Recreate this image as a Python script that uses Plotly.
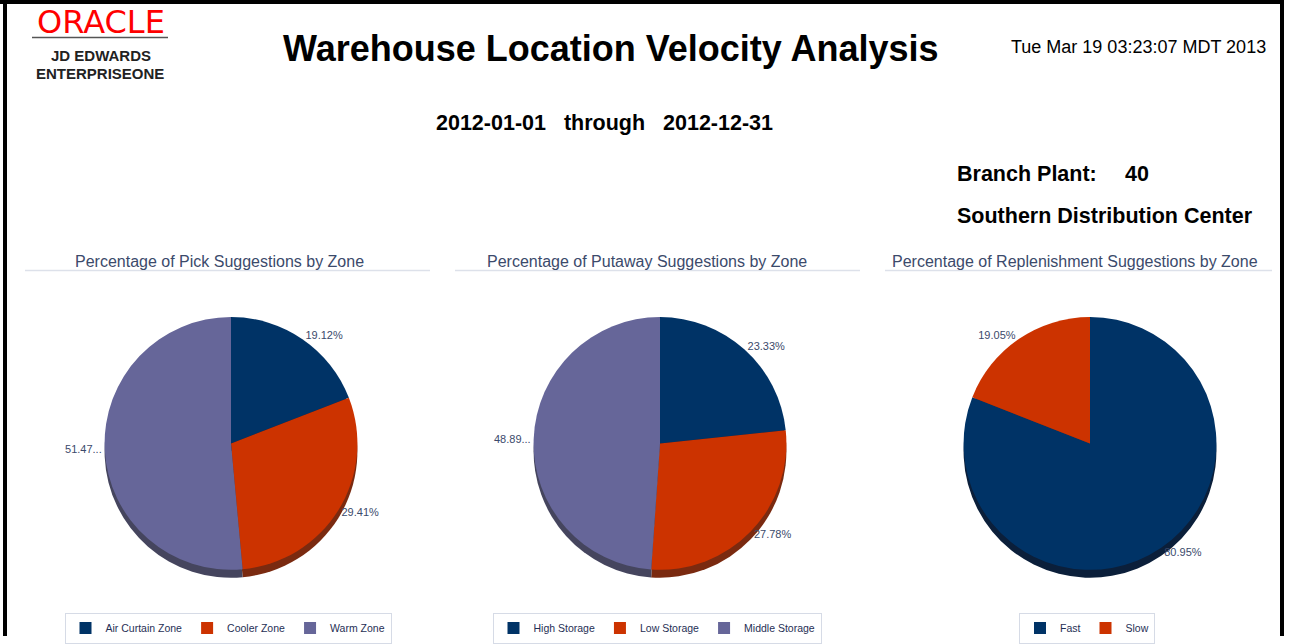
import plotly.graph_objects as go

W, H = 1290, 644

# ---------------- data ----------------
pick_zones = ["Air Curtain Zone", "Cooler Zone", "Warm Zone"]
pick_values = [19.12, 29.41, 51.47]
pick_labels = ["19.12%", "29.41%", "51.47..."]

putaway_zones = ["High Storage", "Low Storage", "Middle Storage"]
putaway_values = [23.33, 27.78, 48.89]
putaway_labels = ["23.33%", "27.78%", "48.89..."]

replen_zones = ["Fast", "Slow"]
replen_values = [80.95, 19.05]
replen_labels = ["80.95%", "19.05%"]

chart_titles = [
    "Percentage of Pick Suggestions by Zone",
    "Percentage of Putaway Suggestions by Zone",
    "Percentage of Replenishment Suggestions by Zone",
]

colors = ["#003366", "#CC3300", "#666699"]
shadow_colors = ["#0b1f3a", "#7a2a10", "#45455e"]

FONT = "Liberation Sans, Arial, sans-serif"
TEXTCOL = "#3b4a6b"

# pie geometry in pixels
R = 128
CY = 449
centers_x = [231, 660, 1090]
SHADOW = 8


def dom(cx, cy):
    return dict(x=[(cx - R) / W, (cx + R) / W],
                y=[1 - (cy + R) / H, 1 - (cy - R) / H])


fig = go.Figure()

datasets = [
    (pick_zones, pick_values, pick_labels, "legend"),
    (putaway_zones, putaway_values, putaway_labels, "legend2"),
    (replen_zones, replen_values, replen_labels, "legend3"),
]

for (zones, vals, labs, lg), cx in zip(datasets, centers_x):
    # shadow (3D edge)
    fig.add_trace(go.Pie(
        labels=zones, values=vals, textinfo="none",
        sort=False, direction="clockwise", rotation=0,
        marker=dict(colors=shadow_colors[:len(zones)], line=dict(width=0)),
        domain=dom(cx, CY + SHADOW), showlegend=False, hoverinfo="skip",
    ))
    fig.add_trace(go.Pie(
        labels=zones, values=vals, text=labs, textinfo="text",
        textposition="outside", sort=False, direction="clockwise", rotation=0,
        marker=dict(colors=colors[:len(zones)], line=dict(width=0)),
        textfont=dict(color=TEXTCOL, size=11, family=FONT),
        domain=dom(cx, CY), legend=lg, showlegend=True,
    ))

annotations = []
shapes = []


def ann(text, x, y, size, bold=False, color="#000000", xanchor="left", yanchor="middle", family=FONT):
    t = f"<b>{text}</b>" if bold else text
    annotations.append(dict(text=t, x=x / W, y=1 - y / H, xref="paper", yref="paper",
                            xanchor=xanchor, yanchor=yanchor, showarrow=False,
                            font=dict(size=size, color=color, family=family)))


# logo
ann("ORACLE", 101, 22, 32, color="#ff0000", xanchor="center", family="DejaVu Sans, sans-serif")
shapes.append(dict(type="line", xref="paper", yref="paper", x0=32 / W, x1=168 / W,
                   y0=1 - 38 / H, y1=1 - 38 / H, line=dict(color="#555555", width=1.5)))
ann("JD EDWARDS", 101, 56, 15, bold=True, color="#222222", xanchor="center")
ann("ENTERPRISEONE", 100, 74, 15, bold=True, color="#222222", xanchor="center")

# header texts
ann("Warehouse Location Velocity Analysis", 611, 49, 36, bold=True, xanchor="center")
ann("Tue Mar 19 03:23:07 MDT 2013", 1268, 48, 18, xanchor="right")
ann("2012-01-01\u00a0\u00a0\u00a0through\u00a0\u00a0\u00a02012-12-31", 604, 125, 21.5, bold=True, xanchor="center")
ann("Branch Plant:", 955, 176, 21.5, bold=True)
ann("40", 1123, 176, 21.5, bold=True)
ann("Southern Distribution Center", 955, 219, 21.5, bold=True)

# chart titles + underlines
title_centers = [219, 647, 1075]
underlines = [(25, 430), (455, 860), (885, 1272)]
for t, c, (u0, u1) in zip(chart_titles, title_centers, underlines):
    ann(t, c, 265, 16, color=TEXTCOL, xanchor="center")
    shapes.append(dict(type="line", xref="paper", yref="paper", x0=u0 / W, x1=u1 / W,
                       y0=1 - 274 / H, y1=1 - 274 / H, line=dict(color="#dde1ea", width=1.5)))

# page border
shapes.append(dict(type="line", xref="paper", yref="paper", x0=5 / W, x1=5 / W, y0=0, y1=1,
                   line=dict(color="#000000", width=4)))
shapes.append(dict(type="line", xref="paper", yref="paper", x0=0, x1=1284 / W, y0=1 - 2 / H, y1=1 - 2 / H,
                   line=dict(color="#000000", width=4)))
shapes.append(dict(type="line", xref="paper", yref="paper", x0=1282 / W, x1=1282 / W, y0=0, y1=1,
                   line=dict(color="#000000", width=4)))

legend_common = dict(orientation="h", xanchor="center", yanchor="middle",
                     bgcolor="#ffffff", bordercolor="#d6dbe6", borderwidth=1,
                     font=dict(size=10.5, color="#1f2f55", family=FONT),
                     itemwidth=30, tracegroupgap=0)

fig.update_layout(
    width=W, height=H, autosize=False,
    margin=dict(l=0, r=0, t=0, b=0),
    paper_bgcolor="#ffffff", plot_bgcolor="#ffffff",
    annotations=annotations, shapes=shapes,
    legend=dict(x=228 / W, y=1 - 636 / H, **legend_common),
    legend2=dict(x=657 / W, y=1 - 636 / H, **legend_common),
    legend3=dict(x=1087 / W, y=1 - 636 / H, **legend_common),
)

fig.write_html("out.html",
               config=dict(displayModeBar=False, responsive=False),
               post_script="document.body.style.margin='0';document.body.style.overflow='hidden';")
